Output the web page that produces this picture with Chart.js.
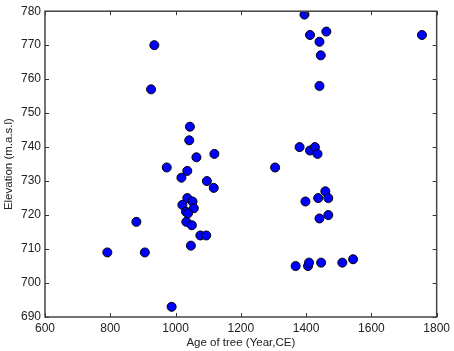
<!DOCTYPE html>
<html>
<head>
<meta charset="utf-8">
<script src="https://cdn.jsdelivr.net/npm/chart.js@4.4.0/dist/chart.umd.min.js"></script>
<style>
  html, body { margin: 0; padding: 0; background: #fff; }
  #wrap { width: 454px; height: 351px; }
</style>
</head>
<body>
<div id="wrap"><canvas id="scatterChart" width="454" height="351"></canvas></div>
<script>
// Age of tree (Year, CE) vs elevation (m.a.s.l)
const treeYears = [
  935, 925, 1044, 1042, 1119, 1064, 973, 1036, 1018, 1096, 1117,
  1036, 1052, 1021, 1056, 1032, 1038, 880, 1033, 1050, 1076, 1094,
  1047, 791, 906, 988,
  1395, 1462, 1412, 1755, 1441, 1445, 1441, 1380, 1412, 1427, 1435, 1305,
  1459, 1398, 1437, 1468, 1441, 1468,
  1368, 1406, 1409, 1446, 1511, 1544
];
const elevations = [
  770, 757, 746, 742, 738, 737, 734, 733, 731, 730, 728,
  725, 724, 723, 722, 721, 720.5, 718, 718, 717, 714, 714,
  711, 709, 709, 693,
  779, 774, 773, 773, 771, 767, 758, 740, 739, 740, 738, 734,
  727, 724, 725, 725, 719, 720,
  705, 705, 706, 706, 706, 707
];
const xTicks = [600, 800, 1000, 1200, 1400, 1600, 1800];
const yTicks = [690, 700, 710, 720, 730, 740, 750, 760, 770, 780];

const points = treeYears.map((x, i) => ({ x: x, y: elevations[i] }));

// box around the plot with inward tick marks (matlab style)
const boxPlugin = {
  id: "boxPlugin",
  afterDraw(chart) {
    const ctx = chart.ctx;
    const a = chart.chartArea;
    const xs = chart.scales.x;
    const ys = chart.scales.y;
    const len = 4;
    ctx.save();
    ctx.strokeStyle = "#333";
    ctx.lineWidth = 1;
    ctx.beginPath();
    xTicks.forEach((v) => {
      const px = Math.round(xs.getPixelForValue(v)) + 0.5;
      ctx.moveTo(px, a.bottom);
      ctx.lineTo(px, a.bottom - len);
      ctx.moveTo(px, a.top);
      ctx.lineTo(px, a.top + len);
    });
    yTicks.forEach((v) => {
      const py = Math.round(ys.getPixelForValue(v)) + 0.5;
      ctx.moveTo(a.left, py);
      ctx.lineTo(a.left + len, py);
      ctx.moveTo(a.right, py);
      ctx.lineTo(a.right - len, py);
    });
    ctx.stroke();
    ctx.strokeStyle = "#444";
    ctx.lineWidth = 1.5;
    ctx.strokeRect(a.left, a.top, a.right - a.left, a.bottom - a.top);
    ctx.restore();
  },
};

const font = { family: "'Liberation Sans', Arial, sans-serif", size: 12 };
const plain = (v) => String(v);

new Chart(document.getElementById("scatterChart").getContext("2d"), {
  type: "scatter",
  data: {
    datasets: [
      {
        data: points,
        backgroundColor: "#0000ff",
        borderColor: "#000",
        borderWidth: 1,
        pointRadius: 4.5,
      },
    ],
  },
  options: {
    responsive: false,
    animation: false,
    layout: { padding: { top: 7, right: 15, left: 0, bottom: 0 } },
    plugins: { legend: { display: false }, tooltip: { enabled: false } },
    scales: {
      x: {
        type: "linear",
        min: 600,
        max: 1800,
        afterBuildTicks: (s) => { s.ticks = xTicks.map((v) => ({ value: v })); },
        afterFit: (s) => { s.height = 34; },
        grid: { display: false, drawTicks: false },
        border: { display: false },
        ticks: { color: "#222", font: font, padding: 4, maxRotation: 0, callback: plain },
        title: {
          display: true,
          text: "Age of tree (Year,CE)",
          color: "#222",
          font: { family: font.family, size: 11.5 },
          padding: { top: 0, bottom: 1 },
        },
      },
      y: {
        type: "linear",
        min: 690,
        max: 780,
        afterBuildTicks: (s) => { s.ticks = yTicks.map((v) => ({ value: v })); },
        afterFit: (s) => { s.width = 45; },
        grid: { display: false, drawTicks: false },
        border: { display: false },
        ticks: { color: "#222", font: font, padding: 4, callback: plain },
        title: {
          display: true,
          text: "Elevation (m.a.s.l)",
          color: "#222",
          font: { family: font.family, size: 11.5 },
          padding: { top: 2, bottom: 0 },
        },
      },
    },
  },
  plugins: [boxPlugin],
});
</script>
</body>
</html>
